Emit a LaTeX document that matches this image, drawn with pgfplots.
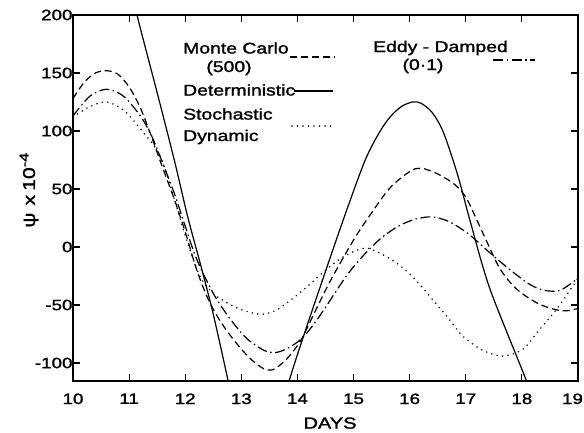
\documentclass[border=0pt]{standalone}
\usepackage{fontspec}
\setmainfont[FakeStretch=1.25,FakeBold=1.5]{Liberation Sans}
\usepackage{pgfplots}
\pgfplotsset{compat=1.18}

\tikzset{
  mc/.style={line width=1.2pt,dash pattern=on 7pt off 4pt},
  det/.style={line width=1.2pt},
  sd/.style={line width=1.7pt,line cap=round,dash pattern=on 0pt off 5.5pt},
  ed/.style={line width=1.2pt,dash pattern=on 10pt off 3.5pt on 1.5pt off 3.5pt},
}

\begin{document}
\begin{tikzpicture}
\useasboundingbox (-73pt,-52pt) rectangle (511pt,381pt);
\begin{axis}[
  at={(0,0)},anchor=south west,scale only axis,
  width=505pt,height=366pt,
  xmin=10,xmax=19,ymin=-115.5,ymax=200,
  xtick={10,11,12,13,14,15,16,17,18,19},
  xticklabels={10,11,12,13,14,15,16,17,18,\kern-11pt19},
  ytick={-100,-50,0,50,100,150,200},
  yticklabels={-100,-50,0,50,100,150,200},
  tick align=inside,major tick length=7pt,
  tick style={line width=1.1pt,black},
  axis line style={line width=1.3pt},
  ticklabel style={font=\fontsize{15}{15}\selectfont},
  xticklabel style={yshift=-9pt},
  yticklabel style={xshift=3pt},
  xlabel={DAYS},
  xlabel style={font=\fontsize{16}{16}\selectfont,at={(axis description cs:0.509,-0.115)},anchor=center},
  ylabel={ψ\hspace{7pt}x\hspace{4pt}10\textsuperscript{\fontsize{13}{13}\selectfont -4}},
  ylabel style={font=\fontsize{17}{17}\selectfont,at={(axis description cs:-0.087,0.522)},anchor=center},
  clip=true,
]
% Monte Carlo (500)
\addplot[mc,smooth] coordinates {
 (10,128) (10.2,142) (10.4,150) (10.6,152) (10.8,149) (11.0,138) (11.2,120)
 (11.4,95) (11.6,68) (11.8,42) (12.0,13) (12.2,-19) (12.4,-44) (12.6,-62)
 (12.8,-76) (13.0,-88) (13.2,-98) (13.4,-105) (13.5,-106) (13.6,-105)
 (13.8,-97) (14.0,-85) (14.1,-77) (14.3,-57) (14.6,-28) (15.0,6) (15.3,28)
 (15.65,51) (16.0,65) (16.2,68) (16.5,63) (16.8,54) (17.0,43) (17.2,23)
 (17.4,2) (17.6,-18) (17.8,-31) (18.0,-40) (18.3,-49) (18.6,-54) (18.8,-55) (19,-53)};
% Deterministic
\addplot[det,smooth] coordinates {
 (11.05,222) (11.14,200) (11.5,133) (11.8,76) (12.05,25) (12.3,-20)
 (12.5,-58) (12.74,-110) (12.8,-125)};
\addplot[det,smooth] coordinates {
 (13.8,-125) (13.86,-114) (14.1,-78) (14.5,-21) (14.85,28) (15.2,74)
 (15.45,98) (15.65,112) (15.85,121) (16.05,125) (16.2,124) (16.4,116)
 (16.6,99) (16.85,63) (17.08,22) (17.43,-36) (18.07,-114) (18.12,-125)};
% Stochastic dynamic
\addplot[sd,smooth] coordinates {
 (10,112) (10.3,121) (10.6,125) (10.9,118) (11.2,102) (11.55,79) (11.8,42)
 (12.0,10) (12.26,-25) (12.5,-40) (12.74,-48) (13.0,-54) (13.33,-58)
 (13.6,-55) (13.9,-45) (14.2,-33) (14.5,-20) (14.8,-9) (15.05,-3) (15.25,-1)
 (15.5,-6) (15.8,-15) (16.1,-28) (16.42,-46) (16.7,-62) (16.95,-77)
 (17.3,-89) (17.66,-94) (18.02,-88) (18.3,-72) (18.63,-53) (19,-27)};
% Eddy-damped (0.1)
\addplot[ed,smooth] coordinates {
 (10,113) (10.3,130) (10.6,136) (10.9,130) (11.2,113) (11.4,96) (11.6,72)
 (11.8,47) (12.0,18) (12.2,-10) (12.5,-40) (12.8,-62) (13.1,-79) (13.4,-89)
 (13.6,-91) (13.8,-88) (14.0,-82) (14.1,-78) (14.3,-66) (14.5,-52) (14.8,-30)
 (15.0,-17) (15.24,-4) (15.5,8) (15.8,18) (16.1,24) (16.4,26) (16.7,22)
 (17.0,13) (17.2,5) (17.5,-8) (17.8,-20) (18.1,-31) (18.3,-36) (18.5,-38)
 (18.7,-37) (19,-27)};
\end{axis}
% legend
\begin{scope}[every node/.style={font=\fontsize{15.5}{15.5}\selectfont,inner sep=0pt}]
\node[anchor=west] at (110pt,333pt) {Monte Carlo};
\node at (156pt,313pt) {(500)};
\node[anchor=west] at (110pt,291pt) {Deterministic};
\node[anchor=west] at (110pt,267pt) {Stochastic};
\node[anchor=west] at (110pt,244pt) {Dynamic};
\node[anchor=west] at (300pt,333pt) {Eddy - Damped};
\node at (350pt,315pt) {(0·1)};
\end{scope}
\draw[mc] (217pt,324pt) -- (262pt,324pt);
\draw[det] (221pt,290pt) -- (260pt,290pt);
\draw[sd] (219pt,255pt) -- (259pt,255pt);
\draw[ed] (420pt,321pt) -- (462pt,321pt);
\end{tikzpicture}
\end{document}
